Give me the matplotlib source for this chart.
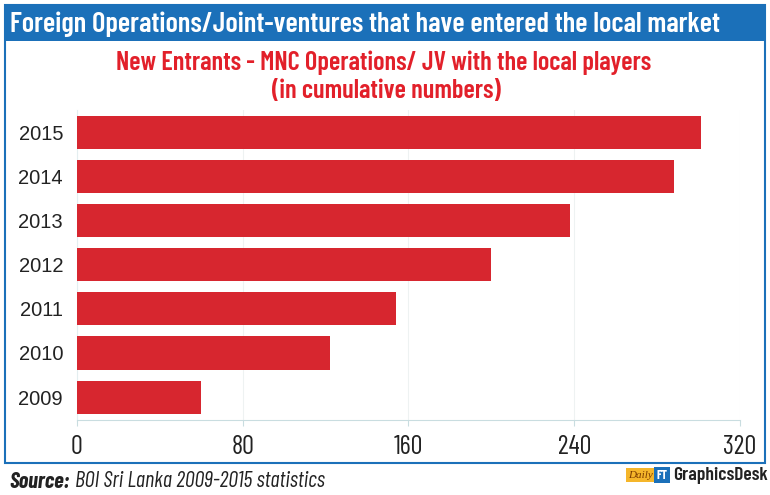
import numpy as np
import matplotlib.pyplot as plt
from matplotlib.patches import Rectangle

# data
years = ['2009', '2010', '2011', '2012', '2013', '2014', '2015']
entrants = [60, 122, 154, 200, 238, 288, 301]
xticks = [0, 80, 160, 240, 320]

narrow = ['Barlow Condensed', 'DejaVu Sans']
plain = ['Liberation Sans', 'Arimo', 'DejaVu Sans']
blue = '#1b70b9'
red = '#d7262f'

fig = plt.figure(figsize=(7.7, 4.95), dpi=100)
fig.patch.set_facecolor('white')

# frame + title bar
fig.patches.append(Rectangle((0.007, 0.064), 0.986, 0.926, transform=fig.transFigure,
                             facecolor='none', edgecolor=blue, lw=1.5))
fig.patches.append(Rectangle((0.007, 0.918), 0.986, 0.072, transform=fig.transFigure,
                             facecolor=blue, edgecolor='none'))
fig.text(0.013, 0.952, 'Foreign Operations/Joint-ventures that have entered the local market',
         color='white', fontsize=20.5, fontweight='semibold', family=narrow, va='center', ha='left')
fig.text(0.498, 0.874, 'New Entrants - MNC Operations/ JV with the local players',
         color='#e2202a', fontsize=19, fontweight='semibold', family=narrow, ha='center', va='center')
fig.text(0.502, 0.817, '(in cumulative numbers)',
         color='#e2202a', fontsize=19, fontweight='semibold', family=narrow, ha='center', va='center')

ax = fig.add_axes([0.1, 0.1515, 0.861, 0.627])
y = np.arange(len(years))
ax.barh(y, entrants, height=0.75, color=red, zorder=3)
ax.set_xlim(0, 320)
ax.set_ylim(-0.52, 6.52)
ax.set_xticks(xticks)
ax.set_xticklabels([str(t) for t in xticks], family=narrow, fontsize=19)
ax.set_yticks(y)
ax.set_yticklabels(years, family=plain, fontsize=14.5)
ax.grid(axis='x', color='#eef2f2', lw=0.8, zorder=0)
for s in ['top', 'right']:
    ax.spines[s].set_visible(False)
ax.spines['left'].set_color('#e4eef0')
ax.spines['bottom'].set_color('#c9dde0')
ax.tick_params(axis='x', length=4, color='#c9dde0', pad=7, labelcolor='#222222')
ax.tick_params(axis='y', length=0, pad=10, labelcolor='#222222')

# footer
src = fig.text(0.012, 0.027, 'Source:', fontsize=16, fontweight='bold', style='italic',
               family=narrow, color='#222222', va='center')
fig.canvas.draw()
ax.annotate('BOI Sri Lanka 2009-2015 statistics', xy=(1, 0.5), xycoords=src,
            xytext=(4, 0), textcoords='offset points', fontsize=16, style='italic',
            family=narrow, color='#222222', va='center', annotation_clip=False)
fig.text(0.816, 0.04, 'Daily', fontsize=8, style='italic', family=['Liberation Serif', 'DejaVu Serif'],
         color='#7a3b00', va='center',
         bbox=dict(boxstyle='square,pad=0.2', facecolor='#f5b62a', edgecolor='none'))
fig.text(0.852, 0.04, 'FT', fontsize=9, fontweight='bold', family=narrow, color='white', va='center',
         bbox=dict(boxstyle='square,pad=0.2', facecolor=blue, edgecolor='none'))
fig.text(0.874, 0.04, 'GraphicsDesk', fontsize=14, fontweight='semibold', family=narrow,
         color='#222222', va='center')

plt.savefig('out.png', dpi=100)
